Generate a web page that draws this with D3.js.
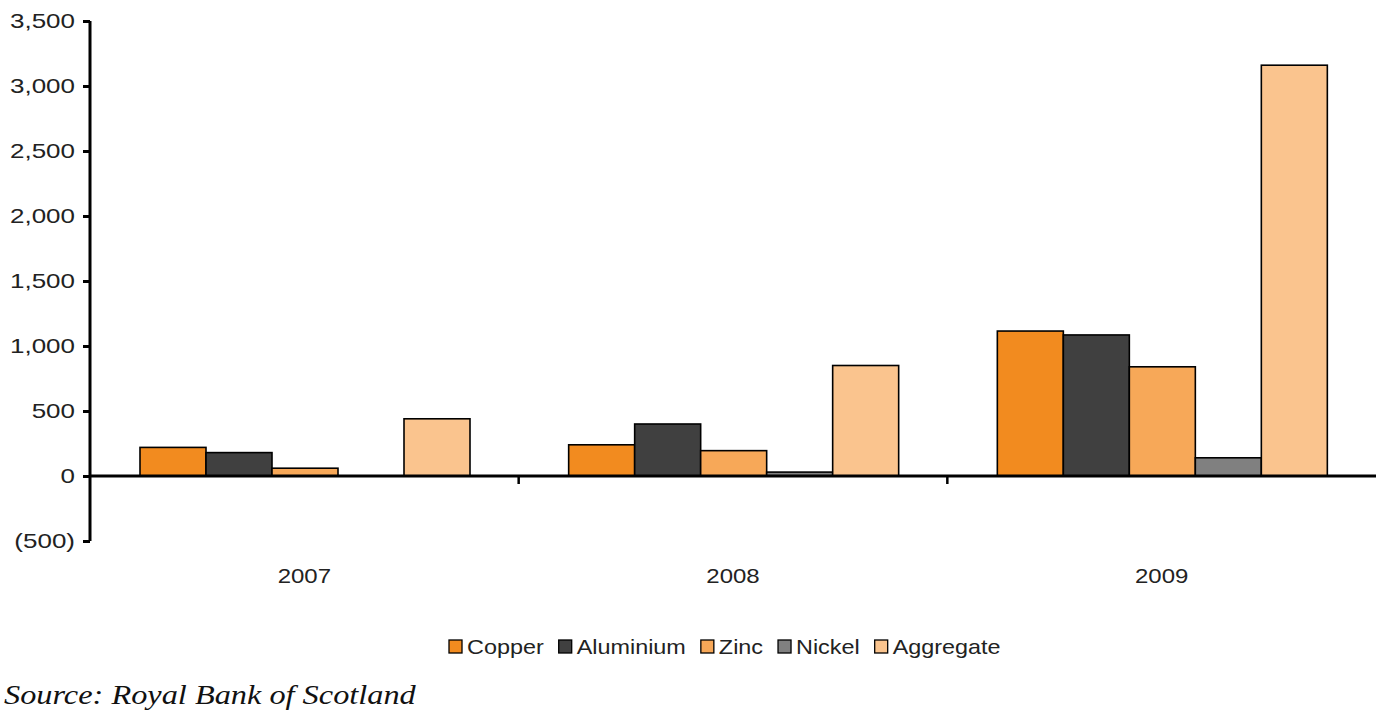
<!DOCTYPE html>
<html><head><meta charset="utf-8">
<script src="https://cdn.jsdelivr.net/npm/d3@7"></script>
<style>body{margin:0;background:#fff}svg{display:block}</style>
</head><body>
<script>
const years = ["2007","2008","2009"];
const seriesNames = ["Copper","Aluminium","Zinc","Nickel","Aggregate"];
const copper = [220, 240, 1115];
const aluminium = [180, 400, 1085];
const zinc = [60, 195, 840];
const nickel = [0, 30, 140];
const aggregate = [440, 850, 3160];
const yTicks = [-500,0,500,1000,1500,2000,2500,3000,3500];
const colors = ["#F28B1F","#404040","#F7A858","#808080","#FAC48E"];
const sourceText = "Source: Royal Bank of Scotland";

const seriesVals = [copper, aluminium, zinc, nickel, aggregate];
const W=1393,H=716;
const sans="Liberation Sans, Arial, sans-serif";
const svg=d3.select("body").append("svg").attr("width",W).attr("height",H);
const x0=d3.scaleBand().domain(years).range([90,1376]).padding(0);
const x1=d3.scaleBand().domain(seriesNames).range([50,50+330]);
const y=d3.scaleLinear().domain([-500,3500]).range([541,21]);

// bars
years.forEach((yr,i)=>{
  seriesNames.forEach((s,j)=>{
    const v=seriesVals[j][i];
    if(v===0) return;
    svg.append("rect")
      .attr("x",x0(yr)+x1(s))
      .attr("y",y(Math.max(0,v)))
      .attr("width",x1.bandwidth())
      .attr("height",Math.abs(y(v)-y(0)))
      .attr("fill",colors[j]).attr("stroke","#000").attr("stroke-width",1.6);
  });
});

// y axis
const ya=svg.append("g").attr("transform","translate(90,0)")
 .call(d3.axisLeft(y).tickValues(yTicks).tickSize(7).tickPadding(9)
   .tickFormat(d=>d<0?"("+d3.format(",")(-d)+")":d3.format(",")(d)));
ya.select(".domain").attr("stroke","#000").attr("stroke-width",3).attr("d","M0,21V541");
ya.selectAll(".tick line").attr("stroke","#000").attr("stroke-width",3);
ya.selectAll("text").attr("font-family",sans).attr("font-size",20).attr("fill","#222")
  .attr("x",0).attr("transform","translate(-15,0) scale(1.3,1)");

// x axis at zero
const xa=svg.append("g").attr("transform",`translate(0,${y(0)})`)
 .call(d3.axisBottom(x0).tickSize(0));
xa.select(".domain").attr("stroke","#000").attr("stroke-width",3).attr("d","M90,0H1376");
xa.selectAll("text").attr("font-family",sans).attr("font-size",20).attr("fill","#222")
  .attr("y",0).attr("dy",0).attr("transform","translate(0,107) scale(1.2,1)");
years.slice(1).forEach(yr=>{
  svg.append("line").attr("x1",x0(yr)).attr("x2",x0(yr)).attr("y1",y(0)).attr("y2",y(0)+8)
   .attr("stroke","#000").attr("stroke-width",2.5);
});

// legend
const lg=svg.append("g").attr("font-family",sans).attr("font-size",20);
let lx=449;
seriesNames.forEach((s,j)=>{
  const g=lg.append("g").attr("transform",`translate(${lx},640)`);
  g.append("rect").attr("x",0).attr("y",0).attr("width",13).attr("height",13)
   .attr("fill",colors[j]).attr("stroke","#000").attr("stroke-width",1.3);
  const t=g.append("text").attr("x",0).attr("y",0).attr("fill","#222")
   .attr("transform","translate(18,14) scale(1.17,1)").text(s);
  lx += 18 + t.node().getComputedTextLength()*1.17 + 15;
});

svg.append("text").attr("transform","translate(4,704) scale(1.155,1)")
 .attr("font-family","Liberation Serif, serif").attr("font-style","italic").attr("font-size",28)
 .attr("fill","#111").text(sourceText);
</script>
</body></html>
